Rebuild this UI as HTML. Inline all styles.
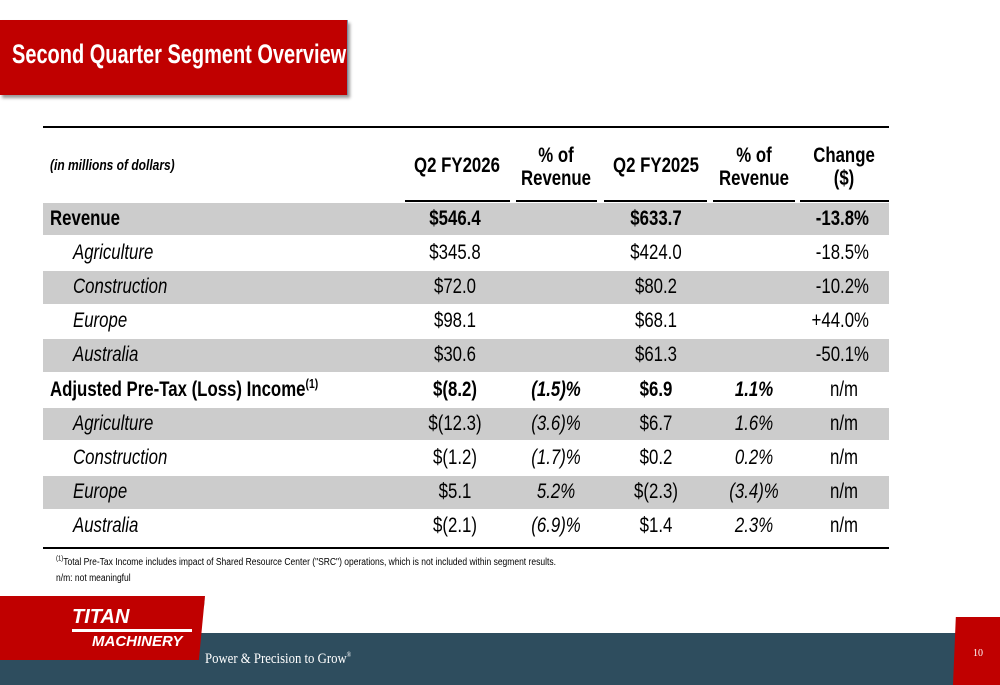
<!DOCTYPE html>
<html><head><meta charset="utf-8"><style>
body{margin:0;width:1000px;height:685px;position:relative;overflow:hidden;background:#fff;font-family:"Liberation Sans",sans-serif;}
.a{position:absolute;white-space:nowrap;}
.t{position:absolute;white-space:nowrap;font-size:21px;line-height:24px;color:#000;}
.n{display:inline-block;transform:scaleX(0.8);}
sup{line-height:0;}
</style></head><body>
<div class="a" style="left:0;top:20px;width:347px;height:75px;background:#c00000;box-shadow:2px 3px 3px #999;border-right:1px solid #7a8aa0;"></div>
<div class="a" style="left:12px;top:39px;color:#fff;font-weight:bold;font-size:27px;"><span class="n" style="transform-origin:left;transform:scaleX(0.74)">Second Quarter Segment Overview</span></div>

<div class="a" style="left:43px;top:126px;width:846px;height:2px;background:#000"></div>
<div id="tbl"></div>
<div class="a" style="left:43px;top:547px;width:846px;height:2px;background:#000"></div>

<div class="a" style="left:56px;top:557px;font-size:10px;"><span class="n" style="transform-origin:left;transform:scaleX(0.85)"><sup style="font-size:7px">(1)</sup>Total Pre-Tax Income includes impact of Shared Resource Center ("SRC") operations, which is not included within segment results.</span></div>
<div class="a" style="left:56px;top:573px;font-size:10px;"><span class="n" style="transform-origin:left;transform:scaleX(0.85)">n/m: not meaningful</span></div>

<div class="a" style="left:0;top:633px;width:1000px;height:52px;background:#2e4d5e"></div>
<div class="a" style="left:0;top:596px;width:205px;height:64px;background:#c00000;clip-path:polygon(0 0,100% 0,97% 100%,0 100%);box-shadow:3px 3px 4px #333;"></div>
<div class="a" style="left:72px;top:606px;color:#fff;font-weight:bold;font-style:italic;font-size:20px;">TITAN</div>
<div class="a" style="left:72px;top:629px;width:120px;height:3px;background:#fff"></div>
<div class="a" style="left:92px;top:633px;color:#fff;font-weight:bold;font-style:italic;font-size:15px;">MACHINERY</div>
<div class="a" style="left:205px;top:651px;color:#fff;font-family:'Liberation Serif',serif;font-size:15px;"><span class="n" style="transform-origin:left;transform:scaleX(0.85)">Power &amp; Precision to Grow<sup style="font-size:7px">®</sup></span></div>
<div class="a" style="left:953px;top:617px;width:47px;height:68px;background:#c00000;clip-path:polygon(6% 0,100% 0,100% 100%,0 100%)"></div>
<div class="a" style="left:973px;top:648px;color:#fff;font-family:'Liberation Serif',serif;font-size:10px;">10</div>

<script>
const labels=["Revenue","Agriculture","Construction","Europe","Australia","Adjusted Pre-Tax (Loss) Income","Agriculture","Construction","Europe","Australia"];
const q26=["$546.4","$345.8","$72.0","$98.1","$30.6","$(8.2)","$(12.3)","$(1.2)","$5.1","$(2.1)"];
const pct26=["","","","","","(1.5)%","(3.6)%","(1.7)%","5.2%","(6.9)%"];
const q25=["$633.7","$424.0","$80.2","$68.1","$61.3","$6.9","$6.7","$0.2","$(2.3)","$1.4"];
const pct25=["","","","","","1.1%","1.6%","0.2%","(3.4)%","2.3%"];
const chg=["-13.8%","-18.5%","-10.2%","+44.0%","-50.1%","n/m","n/m","n/m","n/m","n/m"];
const bold=[1,0,0,0,0,1,0,0,0,0];
const tbl=document.getElementById('tbl');
function txt(html,x,y,align,style,name){
  const d=document.createElement('div');
  d.className='t';
  
  
  d.style.left=x+'px';d.style.top=y+'px';
  if(align==='c')d.style.transform='translateX(-50%)';
  if(align==='r')d.style.transform='translateX(-100%)';
  d.innerHTML='<span class="n" style="transform-origin:'+(align==='l'?'left':align==='r'?'right':'center')+'">'+html+'</span>';
  Object.assign(d.style,style||{});
  tbl.appendChild(d);
}
txt('<i>(in millions of dollars)</i>',50,157,'l',{fontSize:'15px',fontWeight:'bold',lineHeight:'18px'},'units-note');
txt('<b>Q2 FY2026</b>',457,154,'c',{},'header-q2-fy2026');
txt('<b>% of<br>Revenue</b>',556,144,'c',{textAlign:'center',lineHeight:'23px'},'header-pct-revenue-2026');
txt('<b>Q2 FY2025</b>',656,154,'c',{},'header-q2-fy2025');
txt('<b>% of<br>Revenue</b>',754,144,'c',{textAlign:'center',lineHeight:'23px'},'header-pct-revenue-2025');
txt('<b>Change<br>($)</b>',844,144,'c',{textAlign:'center',lineHeight:'23px'},'header-change');
const segs=[[405,510],[516,597],[604,707],[713,795],[800,889]];
segs.forEach(function(s,i){
  const l=document.createElement('div');l.className='a';
  
  
  l.style.cssText='left:'+s[0]+'px;top:200px;width:'+(s[1]-s[0])+'px;height:2px;background:#000';
  tbl.appendChild(l);
});
const rowH=34.2, top0=202.5;
for(let i=0;i<labels.length;i++){
  const y=top0+i*rowH;
  if(i%2===0){
    const b=document.createElement('div');b.className='a';
    
    
    b.style.cssText='left:43px;top:'+y+'px;width:846px;height:'+(rowH-1.5)+'px;background:#cccccc';
    tbl.appendChild(b);
  }
  const ty=y+4;
  const B=bold[i];
  const fmt=s=>B?'<b>'+s+'</b>':s;
  let lab=labels[i];
  if(i===5)lab+='<sup style="font-size:13px">(1)</sup>';
  txt(B?'<b>'+lab+'</b>':'<i>'+lab+'</i>',B?50:73,ty,'l',{},'row-label');
  txt(fmt(q26[i]),455,ty,'c',{},'value-q2-fy2026');
  txt(B?'<b><i>'+pct26[i]+'</i></b>':'<i>'+pct26[i]+'</i>',556,ty,'c',{},'value-pct-2026');
  txt(fmt(q25[i]),656,ty,'c',{},'value-q2-fy2025');
  txt(B?'<b><i>'+pct25[i]+'</i></b>':'<i>'+pct25[i]+'</i>',754,ty,'c',{},'value-pct-2025');
  txt(i===0?'<b>'+chg[i]+'</b>':chg[i],i<5?869:844,ty,i<5?'r':'c',{},'value-change');
}
</script>
</body></html>
